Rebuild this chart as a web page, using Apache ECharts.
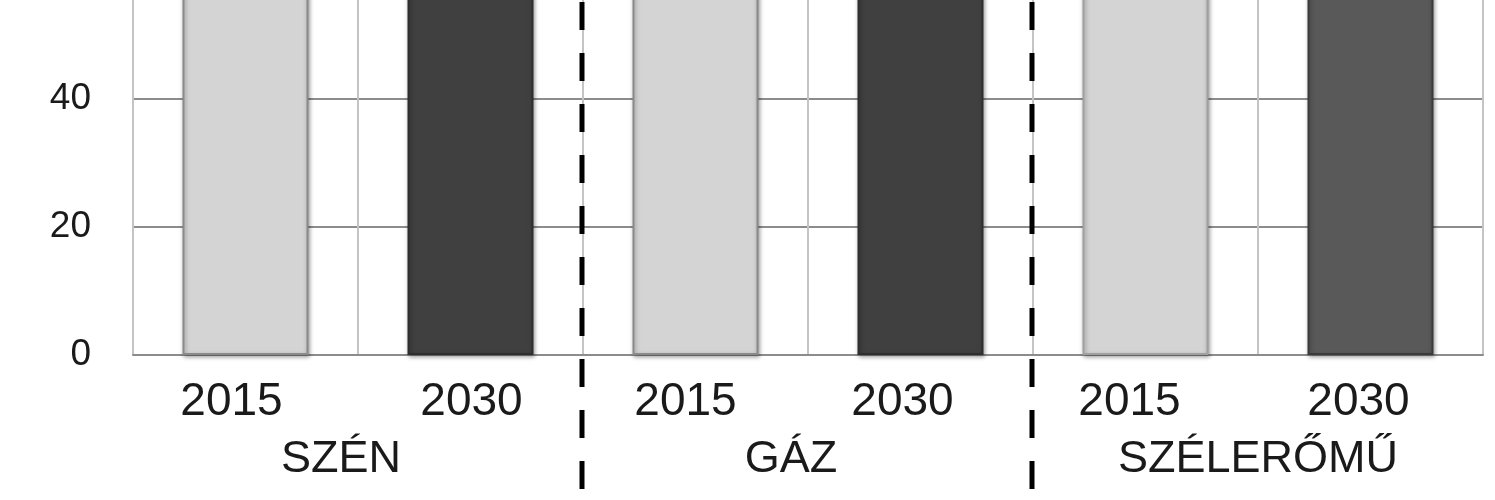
<!DOCTYPE html>
<html>
<head>
<meta charset="utf-8">
<script src="https://cdn.jsdelivr.net/npm/echarts@6/dist/echarts.min.js"></script>
<style>
html,body{margin:0;padding:0;background:#fff;overflow:hidden;width:1495px;height:500px;}
#c{width:1495px;height:785px;margin-top:-285px;}
</style>
</head>
<body>
<div id="c"></div>
<script>
// ---- data ----
const years = ['2015', '2030', '2015', '2030', '2015', '2030'];
const groups = ['SZÉN', 'GÁZ', 'SZÉLERŐMŰ'];
const values = [82, 90, 76, 88, 70, 84];   // tops are cut off in the reference (all > ~56)
const yTicks = [0, 20, 40, 60, 80, 100];

// ---- styles ----
const fills = ['#d4d4d4', '#404040', '#d4d4d4', '#404040', '#d4d4d4', '#595959'];
const borders = ['#8a8a8a', '#2e2e2e', '#8a8a8a', '#2e2e2e', '#a0a0a0', '#3a3a3a'];
const yearShift = [-14, 1, -10, -18, -16, -12];
const groupShift = [-17, -17, 0];

function padFor(s) { return [0, Math.max(-2 * s, 0), 0, Math.max(2 * s, 0)]; }

const chart = echarts.init(document.getElementById('c'));
const FONT = '"Liberation Sans", Arial, sans-serif';

const option = {
  animation: false,
  backgroundColor: '#ffffff',
  grid: { left: 133, right: 12, top: 0, bottom: 145, containLabel: false, outerBoundsMode: 'none' },
  xAxis: [
    {
      type: 'category',
      data: years.map((y, i) => ({ value: y, textStyle: { padding: padFor(yearShift[i]) } })),
      boundaryGap: true,
      axisLine: { show: true, lineStyle: { color: '#8c8c8c', width: 2 } },
      axisTick: { show: false },
      splitLine: { show: true, interval: 0, lineStyle: { color: '#c4c4c4', width: 2 } },
      axisLabel: { interval: 0, fontFamily: FONT, fontSize: 46, color: '#1a1a1a', margin: 24 }
    },
    {
      type: 'category',
      data: groups.map((g, i) => ({ value: g, textStyle: { padding: padFor(groupShift[i]) } })),
      position: 'bottom',
      offset: 58,
      boundaryGap: true,
      axisLine: { show: false },
      axisTick: { show: false },
      splitLine: { show: false },
      axisLabel: { interval: 0, fontFamily: FONT, fontSize: 45, color: '#1a1a1a', margin: 24 }
    }
  ],
  yAxis: {
    type: 'value',
    min: yTicks[0],
    max: yTicks[yTicks.length - 1],
    interval: yTicks[1] - yTicks[0],
    axisLine: { show: false },
    axisTick: { show: false },
    splitLine: { show: true, lineStyle: { color: '#8c8c8c', width: 2 } },
    axisLabel: { fontFamily: FONT, fontSize: 37, color: '#1a1a1a', margin: 42 }
  },
  series: [
    {
      type: 'bar',
      xAxisIndex: 0,
      barWidth: '56%',
      data: values.map((v, i) => ({
        value: v,
        itemStyle: {
          color: fills[i],
          borderColor: borders[i],
          borderWidth: 2,
          shadowColor: 'rgba(0,0,0,0.35)',
          shadowBlur: 4,
          shadowOffsetX: 1,
          shadowOffsetY: 2
        }
      }))
    }
  ]
};
chart.setOption(option);

// dashed group separators at the boundaries between category pairs
function drawSeparators() {
  const seps = [];
  const per = years.length / groups.length;
  for (let g = 1; g < groups.length; g++) {
    const a = chart.convertToPixel({ xAxisIndex: 0 }, per * g - 1);
    const b = chart.convertToPixel({ xAxisIndex: 0 }, per * g);
    const x = (a + b) / 2 - 1;
    seps.push({
      type: 'line',
      z: 100,
      shape: { x1: x, y1: 287, x2: x, y2: 785 },
      style: { stroke: '#000', lineWidth: 5, lineDash: [28, 23] }
    });
  }
  chart.setOption({ graphic: seps });
}
drawSeparators();
</script>
</body>
</html>
